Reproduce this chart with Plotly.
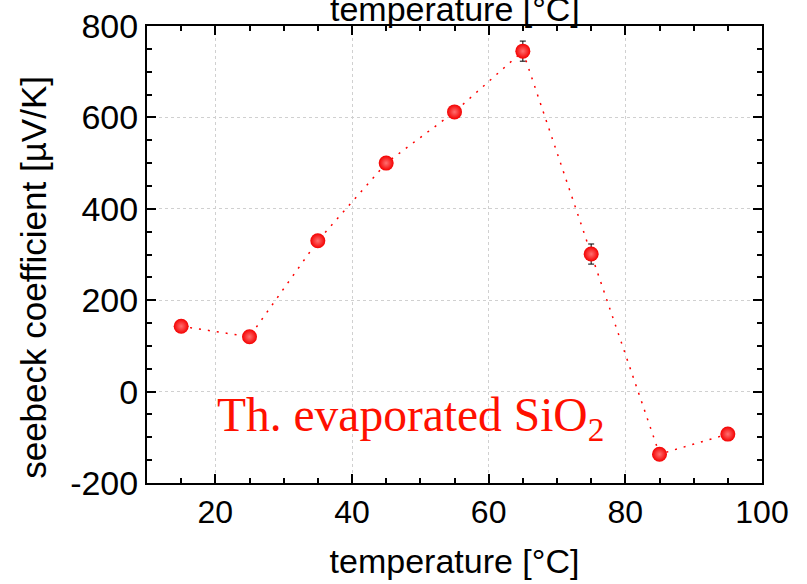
import plotly.graph_objects as go

temperature = [15, 25, 35, 45, 55, 65, 75, 85, 95]
seebeck = [143, 120, 330, 500, 612, 745, 301, -137, -93]
seebeck_err = [6, 5, 12, 8, 10, 22, 22, 5, 5]

x_ticks = [20, 40, 60, 80, 100]
y_ticks = [-200, 0, 200, 400, 600, 800]
x_title = "temperature [°C]"
y_title = "seebeck coefficient [µV/K]"
label_text = "Th. evaporated SiO<sub>2</sub>"

fig = go.Figure()
fig.add_trace(go.Scatter(
    x=temperature, y=seebeck,
    mode="lines+markers",
    line=dict(color="red", width=1.5, dash="2px,7px"),
    marker=dict(size=15, color="#f40000",
                gradient=dict(type="radial", color="#ff7070"),
                line=dict(width=0)),
    error_y=dict(type="data", array=seebeck_err, visible=True,
                 color="black", thickness=1, width=3),
    showlegend=False,
))

sans = "Liberation Sans, Arial, sans-serif"

fig.update_xaxes(
    range=[10, 100], tickvals=x_ticks, ticktext=[str(v) for v in x_ticks],
    ticks="inside", ticklen=9, tickwidth=2, tickcolor="black",
    showline=True, linecolor="black", linewidth=2, mirror="ticks",
    showgrid=True, gridcolor="#d0d0d0", griddash="dot", gridwidth=1,
    zeroline=False, automargin=False,
    minor=dict(dtick=5, ticks="inside", ticklen=5, tickwidth=2, tickcolor="black", showgrid=False),
    tickfont=dict(family=sans, size=32, color="black"),
    title=dict(text=x_title, font=dict(family=sans, size=34, color="black"), standoff=20),
)
fig.update_yaxes(
    range=[-200, 800], tickvals=y_ticks, ticktext=[str(v) for v in y_ticks],
    ticks="inside", ticklen=9, tickwidth=2, tickcolor="black",
    showline=True, linecolor="black", linewidth=2, mirror="ticks",
    showgrid=True, gridcolor="#d0d0d0", griddash="dot", gridwidth=1,
    zeroline=False, automargin=False,
    minor=dict(dtick=50, ticks="inside", ticklen=5, tickwidth=2, tickcolor="black", showgrid=False),
    tickfont=dict(family=sans, size=34, color="black"),
)

# y-axis title (placed as a rotated annotation to match the original's offset)
fig.add_annotation(
    x=0, y=0.449, xref="paper", yref="paper", xanchor="center", yanchor="middle",
    xshift=-113, textangle=-90, text=y_title, showarrow=False,
    font=dict(family=sans, size=35, color="black"),
)
fig.add_annotation(
    x=19.9, y=-59, xref="x", yref="y", xanchor="left", yanchor="middle",
    text=label_text, showarrow=False,
    font=dict(family="Liberation Serif, Times New Roman, serif", size=47.5, color="#ff1000"),
)
# top axis title, partly cut off by the top edge as in the original
fig.add_annotation(
    x=0.5, y=1, xref="paper", yref="paper", xanchor="center", yanchor="middle",
    yshift=17, text=x_title, showarrow=False,
    font=dict(family=sans, size=34, color="black"),
)

fig.update_layout(
    width=807, height=584,
    margin=dict(l=147, r=45, t=26, b=101),
    paper_bgcolor="white", plot_bgcolor="white",
)

fig.write_html("out.html", config={"displayModeBar": False},
               post_script="document.body.style.margin='0';")
